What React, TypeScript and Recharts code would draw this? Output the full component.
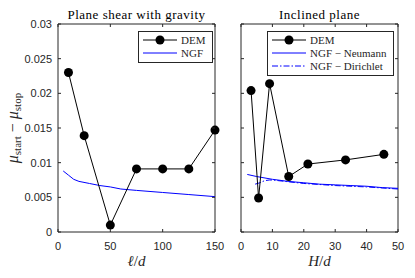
import { LineChart, Line, XAxis, YAxis, ReferenceLine, Legend } from "recharts";

// Plane shear with gravity (x = l/d)
const shearDemX = [10, 25, 50, 75, 100, 125, 150];
const shearDemY = [0.023, 0.0139, 0.001, 0.0091, 0.0091, 0.0091, 0.0147];
const shearNgfX = [5, 10, 15, 20, 30, 40, 50, 60, 75, 100, 125, 150];
const shearNgfY = [0.0088, 0.0082, 0.0076, 0.0073, 0.007, 0.0067, 0.0065, 0.0062, 0.006, 0.0057, 0.0054, 0.0051];

// Inclined plane (x = H/d)
const inclDemX = [3.2, 5.6, 9.1, 15.2, 21.3, 33.3, 45.5];
const inclDemY = [0.0204, 0.0049, 0.0214, 0.008, 0.0098, 0.0104, 0.0112];
const neumannX = [2, 5, 10, 15, 20, 25, 30, 35, 40, 45, 50];
const neumannY = [0.0083, 0.008, 0.0076, 0.0073, 0.0071, 0.0069, 0.0068, 0.0067, 0.0066, 0.0064, 0.0063];
const dirichletX = [4.5, 6, 7.5, 9, 10, 20, 30, 40, 50];
const dirichletY = [0.0069, 0.0071, 0.0074, 0.0075, 0.0075, 0.007, 0.0067, 0.0065, 0.0062];

const yTicks = [0, 0.005, 0.01, 0.015, 0.02, 0.025, 0.03];
const shearXTicks = [0, 50, 100, 150];
const inclXTicks = [0, 10, 20, 30, 40, 50];

const AXIS = "#262626";
const SANS = "'Liberation Sans', Arial, sans-serif";
const SERIF = "'Liberation Serif', 'Times New Roman', serif";
const BLUE = "#0000ff";
const TOP = 24;
const BOTTOM = 46;

const zip = (xs: number[], ys: number[]) => xs.map((x, i) => ({ x, y: ys[i] }));

const XTick = ({ x, y, payload }: any) => (
  <g>
    <line x1={x} x2={x} y1={y} y2={y - 3} stroke={AXIS} />
    <line x1={x} x2={x} y1={TOP} y2={TOP + 3} stroke={AXIS} />
    <text x={x} y={y + 18} textAnchor="middle" fontSize={11} fontFamily={SANS} fill={AXIS}>
      {payload.value}
    </text>
  </g>
);

const YTick = ({ x, y, payload, right, showLabel }: any) => (
  <g>
    <line x1={x} x2={x + 3} y1={y} y2={y} stroke={AXIS} />
    <line x1={right} x2={right - 3} y1={y} y2={y} stroke={AXIS} />
    {showLabel && (
      <text x={x - 6} y={y} dy="0.35em" textAnchor="end" fontSize={11} fontFamily={SANS} fill={AXIS}>
        {payload.value}
      </text>
    )}
  </g>
);

interface Entry {
  name: string;
  color: string;
  marker?: boolean;
  dash?: string;
}

const LegendBox = ({ entries, width }: { entries: Entry[]; width: number }) => {
  const h = entries.length * 13 + 6;
  return (
    <svg width={width} height={h} style={{ display: "block" }}>
      <rect x={0.5} y={0.5} width={width - 1} height={h - 1} fill="#fff" stroke={AXIS} />
      {entries.map((e, i) => {
        const cy = 9 + i * 13;
        return (
          <g key={e.name}>
            <line x1={5} x2={39} y1={cy} y2={cy} stroke={e.color} strokeDasharray={e.dash} />
            {e.marker && <circle cx={22} cy={cy} r={4.5} fill={e.color} />}
            <text x={43} y={cy} dy="0.35em" fontSize={11} fontFamily={SERIF} fill={AXIS}>
              {e.name}
            </text>
          </g>
        );
      })}
    </svg>
  );
};

interface PanelProps {
  left: number;
  width: number;
  plotLeft: number;
  plotRight: number;
  xMax: number;
  xTicks: number[];
  title: string;
  xLabel: React.ReactNode;
  showYLabels: boolean;
  legend: Entry[];
  legendPos: { left: number; top: number; width: number };
  children: React.ReactNode;
}

function Panel(p: PanelProps) {
  const right = p.width - p.plotRight;
  return (
    <div style={{ position: "absolute", left: p.left, top: 0 }}>
      <LineChart width={p.width} height={278} margin={{ top: TOP, right: p.plotRight, bottom: 0, left: 0 }}>
        <XAxis
          type="number"
          dataKey="x"
          domain={[0, p.xMax]}
          ticks={p.xTicks}
          height={BOTTOM}
          tickSize={0}
          tickMargin={0}
          tickLine={false}
          stroke={AXIS}
          tick={<XTick />}
          label={(lp: any) => {
            const vb = lp.viewBox;
            return (
              <text x={vb.x + vb.width / 2} y={vb.y + 34} textAnchor="middle" fontSize={15} fontFamily={SERIF} fill={AXIS}>
                {p.xLabel}
              </text>
            );
          }}
        />
        <YAxis
          type="number"
          domain={[0, 0.03]}
          ticks={yTicks}
          width={p.plotLeft}
          tickSize={0}
          tickMargin={0}
          tickLine={false}
          stroke={AXIS}
          tick={<YTick right={right} showLabel={p.showYLabels} />}
          label={
            p.showYLabels
              ? (lp: any) => {
                  const vb = lp.viewBox;
                  const cx = vb.x + 18;
                  const cy = vb.y + vb.height / 2;
                  return (
                    <text
                      x={cx}
                      y={cy}
                      transform={`rotate(-90 ${cx} ${cy})`}
                      textAnchor="middle"
                      fontSize={16}
                      fontFamily={SERIF}
                      fill={AXIS}
                    >
                      <tspan fontStyle="italic">μ</tspan>
                      <tspan fontSize={11} dy={3}>start</tspan>
                      <tspan dy={-3}> − </tspan>
                      <tspan fontStyle="italic">μ</tspan>
                      <tspan fontSize={11} dy={3}>stop</tspan>
                    </text>
                  );
                }
              : undefined
          }
        />
        <ReferenceLine
          y={0.03}
          stroke={AXIS}
          label={(lp: any) => {
            const vb = lp.viewBox;
            return (
              <text
                x={vb.x + vb.width / 2}
                y={vb.y - 5}
                textAnchor="middle"
                fontSize={13}
                letterSpacing={0.5}
                fontFamily={SERIF}
                fill="#000"
              >
                {p.title}
              </text>
            );
          }}
        />
        <ReferenceLine x={p.xMax} stroke={AXIS} />
        {p.children}
        <Legend
          layout="vertical"
          align="center"
          verticalAlign="middle"
          wrapperStyle={{ left: p.legendPos.left, top: p.legendPos.top, width: p.legendPos.width, height: "auto" }}
          content={() => <LegendBox entries={p.legend} width={p.legendPos.width} />}
        />
      </LineChart>
    </div>
  );
}

export default function App() {
  return (
    <div style={{ position: "absolute", left: 0, top: 0, width: 415, height: 278, background: "#fff" }}>
      <Panel
        left={0}
        width={230}
        plotLeft={58}
        plotRight={15}
        xMax={150}
        xTicks={shearXTicks}
        title="Plane shear with gravity"
        xLabel={
          <>
            <tspan fontStyle="italic">ℓ</tspan>
            <tspan>/</tspan>
            <tspan fontStyle="italic">d</tspan>
          </>
        }
        showYLabels
        legend={[
          { name: "DEM", color: "#000", marker: true },
          { name: "NGF", color: BLUE },
        ]}
        legendPos={{ left: 138, top: 31, width: 75 }}
      >
        <Line
          data={zip(shearNgfX, shearNgfY)}
          dataKey="y"
          stroke={BLUE}
          strokeWidth={1}
          dot={false}
          isAnimationActive={false}
        />
        <Line
          data={zip(shearDemX, shearDemY)}
          dataKey="y"
          stroke="#000"
          strokeWidth={1}
          dot={{ r: 4.5, fill: "#000", stroke: "#000", strokeWidth: 0 }}
          isAnimationActive={false}
        />
      </Panel>
      <Panel
        left={230}
        width={185}
        plotLeft={11}
        plotRight={17}
        xMax={50}
        xTicks={inclXTicks}
        title="Inclined plane"
        xLabel={
          <>
            <tspan fontStyle="italic">H</tspan>
            <tspan>/</tspan>
            <tspan fontStyle="italic">d</tspan>
          </>
        }
        showYLabels={false}
        legend={[
          { name: "DEM", color: "#000", marker: true },
          { name: "NGF − Neumann", color: BLUE },
          { name: "NGF − Dirichlet", color: BLUE, dash: "6 2 1.5 2" },
        ]}
        legendPos={{ left: 37, top: 31, width: 127 }}
      >
        <Line
          data={zip(neumannX, neumannY)}
          dataKey="y"
          stroke={BLUE}
          strokeWidth={1}
          dot={false}
          isAnimationActive={false}
        />
        <Line
          data={zip(dirichletX, dirichletY)}
          dataKey="y"
          stroke={BLUE}
          strokeWidth={1}
          strokeDasharray="6 2 1.5 2"
          dot={false}
          isAnimationActive={false}
        />
        <Line
          data={zip(inclDemX, inclDemY)}
          dataKey="y"
          stroke="#000"
          strokeWidth={1}
          dot={{ r: 4.5, fill: "#000", stroke: "#000", strokeWidth: 0 }}
          isAnimationActive={false}
        />
      </Panel>
    </div>
  );
}
